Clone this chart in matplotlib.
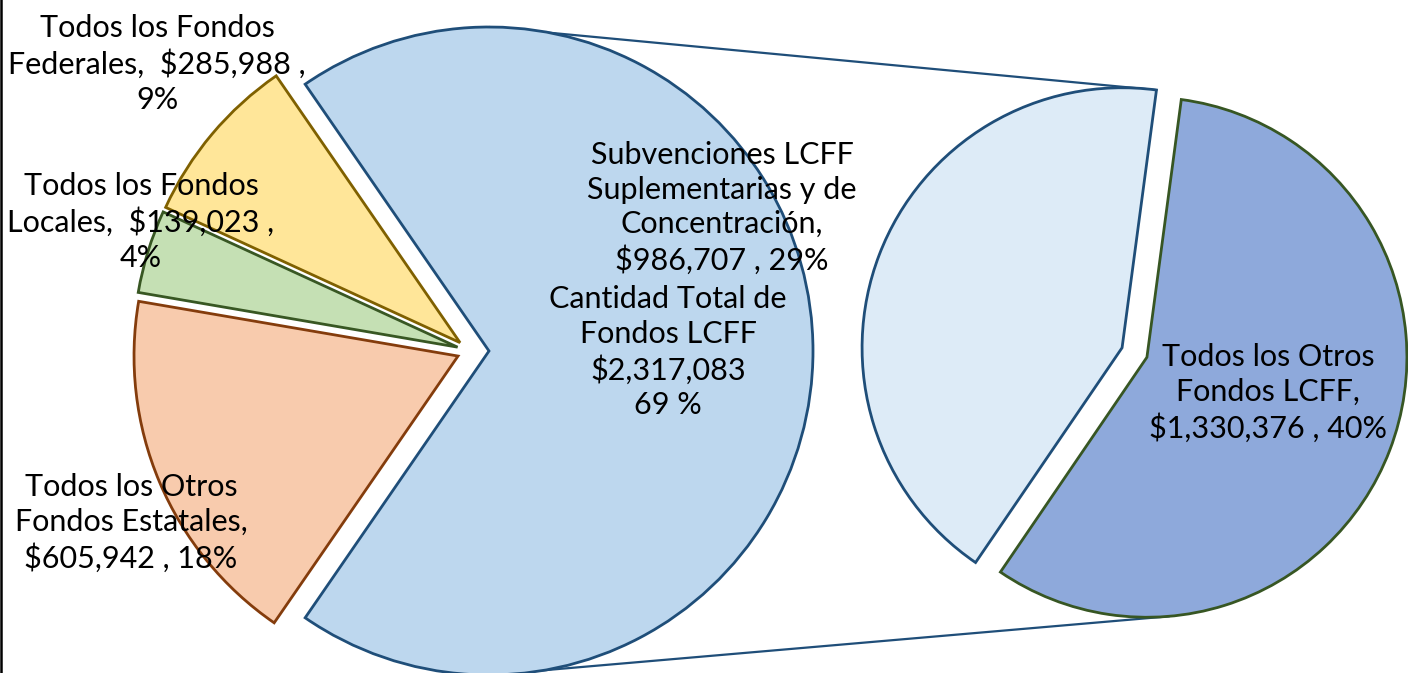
import matplotlib
matplotlib.use("Agg")
import matplotlib.pyplot as plt
import numpy as np

# ---------------- data ----------------
main_names = ["Cantidad Total de Fondos LCFF", "Todos los Fondos Federales",
              "Todos los Fondos Locales", "Todos los Otros Fondos Estatales"]
main_values = [2317083, 285988, 139023, 605942]

sub_names = ["Subvenciones LCFF Suplementarias y de Concentración",
             "Todos los Otros Fondos LCFF"]
sub_values = [986707, 1330376]

# label templates (line breaks as in the chart)
main_label_fmt = ["Cantidad Total de\nFondos LCFF\n${v}\n{p} %",
                  "Todos los Fondos\nFederales,  ${v} ,\n{p}%",
                  "Todos los Fondos\nLocales,  ${v} ,\n{p}%",
                  "Todos los Otros\nFondos Estatales,\n${v} , {p}%"]
sub_label_fmt = ["Subvenciones LCFF\nSuplementarias y de\nConcentración,\n${v} , {p}%",
                 "Todos los Otros\nFondos LCFF,\n${v} , {p}%"]

# ---------------- styles ----------------
main_colors = ["#BDD7EE", "#FFE699", "#C5E0B4", "#F8CBAD"]
main_edges = ["#1F4E79", "#7F6000", "#385723", "#843C0C"]
sub_colors = ["#DDEBF7", "#8EA9DB"]
sub_edges = ["#1F4E79", "#375623"]

W, H = 1408, 673
fig = plt.figure(figsize=(W / 100, H / 100), dpi=100)
ax = fig.add_axes([0, 0, 1, 1])
plt.rcParams['font.family'] = ['Lato', 'DejaVu Sans']
FS = 22


def py(y):
    return H - y


total = sum(main_values)
frac_lcff = main_values[0] / total
start_main = -frac_lcff * 360 / 2

# explode offsets are in data (pixel) units
C1 = np.array([470.0, py(351)])
R1 = 324.0
explode_main = [19, 13, 13, 13]
w_main, _ = ax.pie(main_values, explode=explode_main, startangle=start_main,
                   center=tuple(C1), radius=R1, colors=main_colors,
                   wedgeprops=dict(linewidth=2.0), counterclock=True, frame=False)
for w, ec in zip(w_main, main_edges):
    w.set_edgecolor(ec)

C2 = np.array([1134.5, py(352.5)])
R2 = 260.0
explode_sub = [13.3, 13.3]
start_sub = 82.4
w_sub, _ = ax.pie(sub_values, explode=explode_sub, startangle=start_sub,
                  center=tuple(C2), radius=R2, colors=sub_colors,
                  wedgeprops=dict(linewidth=2.0), counterclock=True, frame=False)
for w, ec in zip(w_sub, sub_edges):
    w.set_edgecolor(ec)

# ---------------- connector lines ----------------
blue_c = np.array(w_main[0].center)
light_c = np.array(w_sub[0].center)
dark_c = np.array(w_sub[1].center)
p_top_left = blue_c + np.array([0, R1])
a_corner = np.deg2rad(w_sub[0].theta1)
p_top_right = light_c + R2 * np.array([np.cos(a_corner), np.sin(a_corner)])
p_bot_left = blue_c - np.array([0, R1])
v = p_bot_left - dark_c
d = np.hypot(*v)
ang = np.arctan2(v[1], v[0]) + np.arccos(R2 / d)
p_bot_right = dark_c + R2 * np.array([np.cos(ang), np.sin(ang)])
for a, b in [(p_top_left, p_top_right), (p_bot_left, p_bot_right)]:
    ax.plot([a[0], b[0]], [a[1], b[1]], color="#1F4E79", lw=1.6, zorder=0.5,
            solid_capstyle='round')

# ---------------- labels ----------------
def pct(v):
    return int(round(100 * v / total))

main_label_pos = [(668, 352), (157, 64), (141, 222), (131, 523)]
sub_label_pos = [(722, 208), (1268, 393)]
for fmt, val, (x, y) in zip(main_label_fmt, main_values, main_label_pos):
    ax.text(x, py(y), fmt.format(v=f"{val:,}", p=pct(val)), ha='center', va='center',
            multialignment='center', fontsize=FS, linespacing=1.28, color='black', zorder=5)
for fmt, val, (x, y) in zip(sub_label_fmt, sub_values, sub_label_pos):
    ax.text(x, py(y), fmt.format(v=f"{val:,}", p=pct(val)), ha='center', va='center',
            multialignment='center', fontsize=FS, linespacing=1.28, color='black', zorder=5)

# left border line
ax.plot([1.2, 1.2], [0, H], color='black', lw=1.8, zorder=6)

ax.set_xlim(0, W)
ax.set_ylim(0, H)
ax.set_aspect('auto')
ax.axis('off')
fig.savefig("out.png", dpi=100)
